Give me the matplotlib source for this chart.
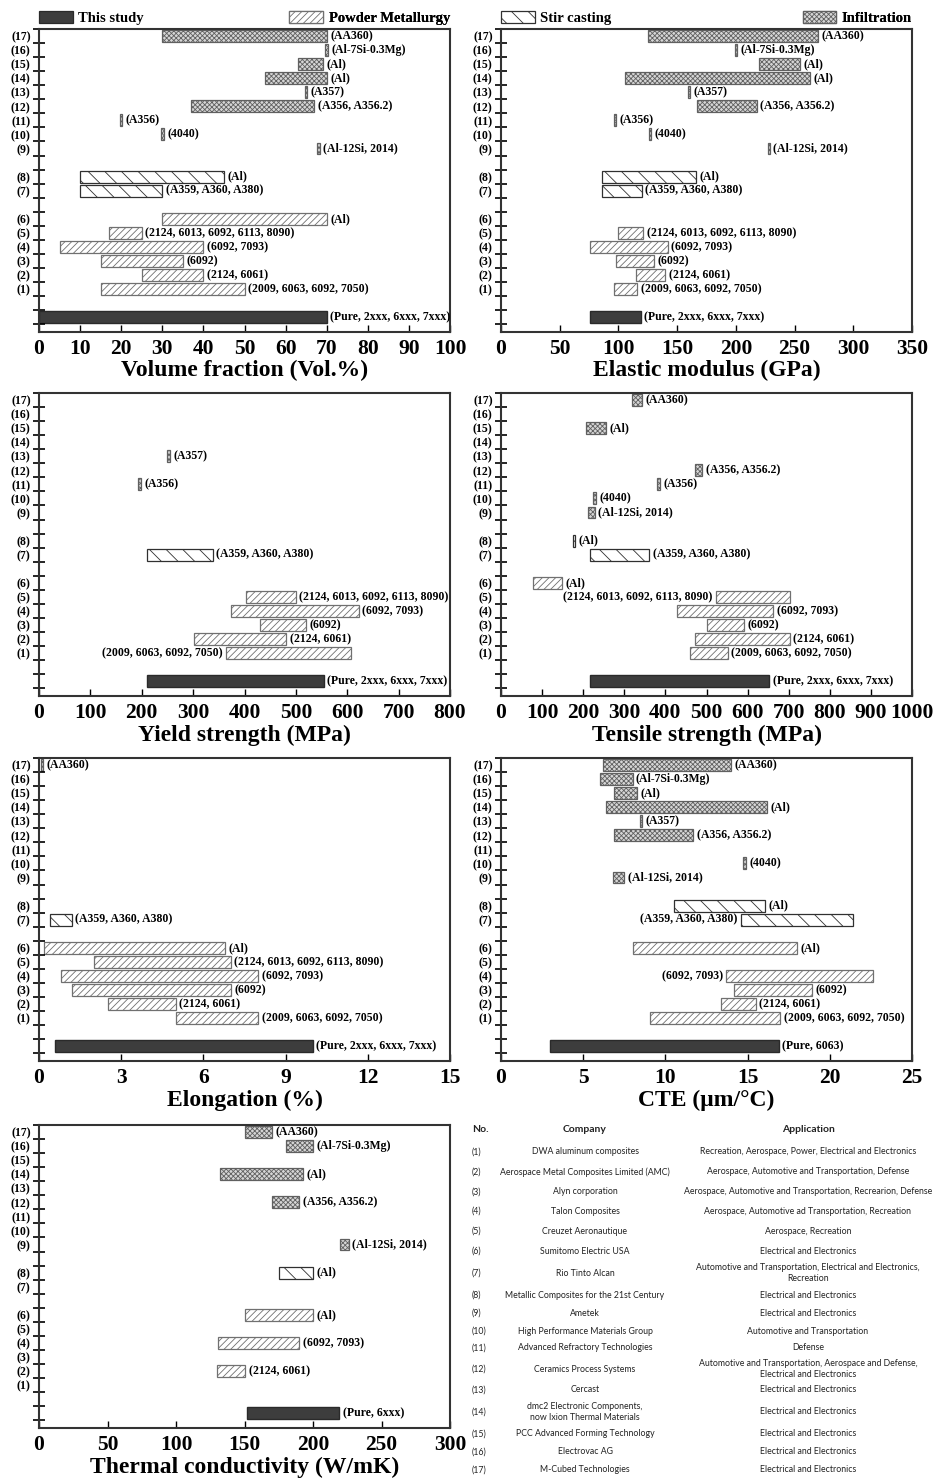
import numpy as np
import matplotlib
matplotlib.use('Agg')
import matplotlib.pyplot as plt
from matplotlib.patches import Patch

# ---------------- data ----------------
item_labels = ['(%d)' % i for i in range(1, 18)]
alloys = ['(2009, 6063, 6092, 7050)', '(2124, 6061)', '(6092)', '(6092, 7093)',
          '(2124, 6013, 6092, 6113, 8090)', '(Al)', '(A359, A360, A380)', '(Al)',
          '(Al-12Si, 2014)', '(4040)', '(A356)', '(A356, A356.2)', '(A357)', '(Al)',
          '(Al)', '(Al-7Si-0.3Mg)', '(AA360)']
process = ['Powder Metallurgy'] * 6 + ['Stir casting'] * 2 + ['Infiltration'] * 9
group_sizes = [6, 2, 9]
N = None

# Volume fraction
vf_study = (0, 70)
vf_study_note = '(Pure, 2xxx, 6xxx, 7xxx)'
vf_lo = [15, 25, 15, 5, 17, 30, 10, 10, 68, 30, 20, 37, 65, 55, 63, 70, 30]
vf_hi = [50, 40, 35, 40, 25, 70, 30, 45, 68, 30, 20, 67, 65, 70, 69, 70, 70]
vf_ticks = [0, 10, 20, 30, 40, 50, 60, 70, 80, 90, 100]
vf_left = []

# Elastic modulus
em_study = (76, 119)
em_study_note = '(Pure, 2xxx, 6xxx, 7xxx)'
em_lo = [96, 115, 98, 76, 100, N, 86, 86, 228, 127, 97, 167, 160, 106, 220, 200, 125]
em_hi = [116, 140, 130, 142, 121, N, 120, 166, 228, 127, 97, 218, 160, 263, 255, 200, 270]
em_ticks = [0, 50, 100, 150, 200, 250, 300, 350]
em_left = []

# Yield strength
ys_study = (210, 554)
ys_study_note = '(Pure, 2xxx, 6xxx, 7xxx)'
ys_lo = [364, 301, 431, 373, 402, N, 211, N, N, N, 196, N, 252, N, N, N, N]
ys_hi = [607, 481, 520, 622, 500, N, 338, N, N, N, 196, N, 252, N, N, N, N]
ys_ticks = [0, 100, 200, 300, 400, 500, 600, 700, 800]
ys_left = [1]

# Tensile strength
ts_study = (217, 653)
ts_study_note = '(Pure, 2xxx, 6xxx, 7xxx)'
ts_lo = [460, 471, 502, 428, 522, 79, 217, 178, 211, 228, 383, 472, N, N, 208, N, 319]
ts_hi = [552, 702, 591, 662, 702, 148, 361, 178, 228, 228, 383, 490, N, N, 255, N, 342]
ts_ticks = [0, 100, 200, 300, 400, 500, 600, 700, 800, 900, 1000]
ts_left = [5]

# Elongation
el_study = (0.6, 10.0)
el_study_note = '(Pure, 2xxx, 6xxx, 7xxx)'
el_lo = [5.0, 2.5, 1.2, 0.8, 2.0, 0.2, 0.4, N, N, N, N, N, N, N, N, N, 0.1]
el_hi = [8.0, 5.0, 7.0, 8.0, 7.0, 6.8, 1.2, N, N, N, N, N, N, N, N, N, 0.1]
el_ticks = [0, 3, 6, 9, 12, 15]
el_left = []

# CTE
cte_study = (3.0, 16.9)
cte_study_note = '(Pure, 6063)'
cte_lo = [9.05, 13.4, 14.2, 13.7, N, 8.0, 14.6, 10.5, 6.8, 14.8, N, 6.9, 8.5, 6.4, 6.9, 6.0, 6.2]
cte_hi = [17.0, 15.5, 18.9, 22.6, N, 18.0, 21.4, 16.05, 7.5, 14.8, N, 11.7, 8.5, 16.2, 8.3, 8.0, 14.0]
cte_ticks = [0, 5, 10, 15, 20, 25]
cte_left = [4, 7]

# Thermal conductivity
tc_study = (152, 219)
tc_study_note = '(Pure, 6xxx)'
tc_lo = [N, 130, N, 131, N, 150, N, 175, 220, N, N, 170, N, 132, N, 180, 150]
tc_hi = [N, 150.6, N, 190, N, 200, N, 200, 226, N, N, 190, N, 193, N, 200, 170]
tc_ticks = [0, 50, 100, 150, 200, 250, 300]
tc_left = []

panels = [
    ('Volume fraction (Vol.%)', vf_study, vf_study_note, vf_lo, vf_hi, vf_ticks, vf_left),
    ('Elastic modulus (GPa)', em_study, em_study_note, em_lo, em_hi, em_ticks, em_left),
    ('Yield strength (MPa)', ys_study, ys_study_note, ys_lo, ys_hi, ys_ticks, ys_left),
    ('Tensile strength (MPa)', ts_study, ts_study_note, ts_lo, ts_hi, ts_ticks, ts_left),
    ('Elongation (%)', el_study, el_study_note, el_lo, el_hi, el_ticks, el_left),
    ('CTE (\u03bcm/\u00b0C)', cte_study, cte_study_note, cte_lo, cte_hi, cte_ticks, cte_left),
    ('Thermal conductivity (W/mK)', tc_study, tc_study_note, tc_lo, tc_hi, tc_ticks, tc_left),
]

# Table
tbl_no = item_labels
tbl_company = ['DWA aluminum composites', 'Aerospace Metal Composites Limited (AMC)',
               'Alyn corporation', 'Talon Composites', 'Creuzet Aeronautique',
               'Sumitomo Electric USA', 'Rio Tinto Alcan',
               'Metallic Composites for the 21st Century', 'Ametek',
               'High Performance Materials Group', 'Advanced Refractory Technologies',
               'Ceramics Process Systems', 'Cercast',
               'dmc2 Electronic Components,\nnow Ixion Thermal Materials',
               'PCC Advanced Forming Technology', 'Electrovac AG', 'M-Cubed Technologies']
tbl_app = ['Recreation, Aerospace, Power, Electrical and Electronics',
           'Aerospace, Automotive and Transportation, Defense',
           'Aerospace, Automotive and Transportation, Recrearion, Defense',
           'Aerospace, Automotive ad Transportation, Recreation',
           'Aerospace, Recreation',
           'Electrical and Electronics',
           'Automotive and Transportation, Electrical and Electronics,\nRecreation',
           'Electrical and Electronics', 'Electrical and Electronics',
           'Automotive and Transportation', 'Defense',
           'Automotive and Transportation, Aerospace and Defense,\nElectrical and Electronics',
           'Electrical and Electronics', 'Electrical and Electronics',
           'Electrical and Electronics', 'Electrical and Electronics',
           'Electrical and Electronics']

# ---------------- style ----------------
plt.rcParams['font.family'] = ['Liberation Serif', 'DejaVu Serif']
plt.rcParams['font.weight'] = 'bold'
plt.rcParams['hatch.linewidth'] = 0.6
plt.rcParams['hatch.color'] = '#555555'

styles = {
    'This study': dict(facecolor='#3d3d3d', edgecolor='#2a2a2a', hatch=None),
    'Powder Metallurgy': dict(facecolor='white', edgecolor='#707070', hatch='/////'),
    'Stir casting': dict(facecolor='white', edgecolor='#303030', hatch='\\\\'),
    'Infiltration': dict(facecolor='#d6d6d6', edgecolor='#606060', hatch='xxxxxxx'),
}

# y layout: study at 0, groups separated by a blank slot
ypos = []
y = 0
for g in group_sizes:
    y += 2
    for j in range(g):
        ypos.append(y + j)
    y += g - 1
ypos = np.array(ypos)

W, H = 936, 1479
fig = plt.figure(figsize=(W / 100, H / 100), dpi=100)

col_left = [39, 501]
row_top = [29, 393, 758, 1125]
ax_w, ax_h = 411, 303

ann_fs = 8.5
bar_h = 0.85
axes = []
for k, (xlabel, study, study_note, lo, hi, ticks, left_idx) in enumerate(panels):
    r, c = divmod(k, 2)
    rect = [col_left[c] / W, 1 - (row_top[r] + ax_h) / H, ax_w / W, ax_h / H]
    ax = fig.add_axes(rect)
    axes.append(ax)
    minw = 0.006 * (ticks[-1] - ticks[0])

    # study bar
    st = styles['This study']
    ax.barh(0, study[1] - study[0], left=study[0], height=bar_h,
            facecolor=st['facecolor'], edgecolor=st['edgecolor'], linewidth=1.0)
    ax.annotate(study_note, (study[1], 0), xytext=(2.5, 0), textcoords='offset points',
                ha='left', va='center', fontsize=ann_fs, fontweight='bold')

    for i in range(17):
        if lo[i] is None:
            continue
        a, b = lo[i], hi[i]
        if b - a < minw:
            left = (a + b) / 2 - minw / 2
            width = minw
        else:
            left, width = a, b - a
        stl = styles[process[i]]
        ax.barh(ypos[i], width, left=left, height=bar_h, facecolor=stl['facecolor'],
                edgecolor=stl['edgecolor'], hatch=stl['hatch'], linewidth=0.9)
        if (i + 1) in left_idx:
            ax.annotate(alloys[i], (left, ypos[i]), xytext=(-2.5, 0),
                        textcoords='offset points', ha='right', va='center',
                        fontsize=ann_fs, fontweight='bold')
        else:
            ax.annotate(alloys[i], (left + width, ypos[i]), xytext=(2.5, 0),
                        textcoords='offset points', ha='left', va='center',
                        fontsize=ann_fs, fontweight='bold')

    ax.set_xlim(ticks[0], ticks[-1])
    ax.set_ylim(-1.05, 20.5)
    ax.set_xticks(ticks)
    ax.set_xticklabels([str(t) for t in ticks], fontsize=15.5, fontweight='bold')
    ax.tick_params(axis='x', direction='in', length=5, width=1.0, pad=5, colors='black')
    ax.set_yticks(np.arange(-0.5, 21, 1))
    ax.set_yticklabels([])
    ax.tick_params(axis='y', which='major', direction='inout', length=9, width=1.2)
    ax.set_yticks(ypos, minor=True)
    ax.set_yticklabels(item_labels, minor=True, fontsize=8.5, fontweight='bold')
    ax.tick_params(axis='y', which='minor', length=0, pad=6)
    ax.set_xlabel(xlabel, fontsize=17, fontweight='bold', labelpad=1)
    for s in ax.spines.values():
        s.set_linewidth(1.5)
        s.set_color('#333333')

# legends
def add_leg(ax, name, loc, anchor):
    stl = styles[name]
    h = Patch(facecolor=stl['facecolor'], edgecolor=stl['edgecolor'], hatch=stl['hatch'],
              linewidth=0.9, label=name)
    leg = ax.legend(handles=[h], loc=loc, bbox_to_anchor=anchor, frameon=False,
                    borderpad=0, borderaxespad=0, handlelength=2.3, handleheight=0.85,
                    handletextpad=0.4, prop=dict(family='Liberation Serif', weight='bold', size=10.5))
    ax.add_artist(leg)

add_leg(axes[0], 'This study', 'lower left', (0, 1.012))
add_leg(axes[0], 'Powder Metallurgy', 'lower right', (1, 1.012))
add_leg(axes[1], 'Stir casting', 'lower left', (0, 1.012))
add_leg(axes[1], 'Infiltration', 'lower right', (1, 1.012))

# table
tfont = ['Lato', 'DejaVu Sans']
hdr_y = 1129
row_y = [1152, 1172, 1192, 1211, 1231, 1251, 1273, 1295, 1313, 1331, 1348, 1369,
         1390, 1412, 1434, 1452, 1470]
x_no, x_comp, x_app = 472, 585, 808
tcol = '#222222'
fig.text(x_no / W, 1 - hdr_y / H, 'No.', ha='left', va='center', family=tfont,
         fontsize=7.5, fontweight='bold', color=tcol)
fig.text(x_comp / W, 1 - hdr_y / H, 'Company', ha='center', va='center', family=tfont,
         fontsize=7.5, fontweight='bold', color=tcol)
fig.text(x_app / W, 1 - hdr_y / H, 'Application', ha='center', va='center', family=tfont,
         fontsize=7.5, fontweight='bold', color=tcol)
for i in range(17):
    yy = 1 - row_y[i] / H
    fig.text(x_no / W, yy, tbl_no[i], ha='left', va='center', family=tfont,
             fontsize=6.3, fontweight='normal', color=tcol)
    fig.text(x_comp / W, yy, tbl_company[i], ha='center', va='center', family=tfont,
             fontsize=6.3, fontweight='normal', linespacing=1.2, color=tcol)
    fig.text(x_app / W, yy, tbl_app[i], ha='center', va='center', family=tfont,
             fontsize=6.3, fontweight='normal', linespacing=1.2, color=tcol)

fig.savefig('out.png', dpi=100)
